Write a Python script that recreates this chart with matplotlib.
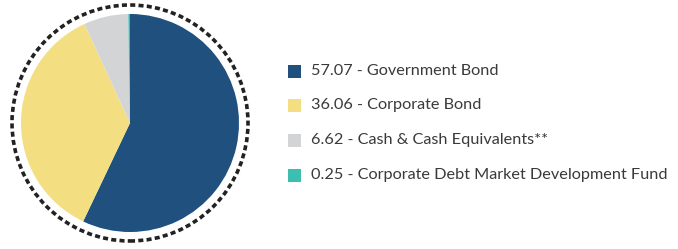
import matplotlib.pyplot as plt
from matplotlib.patches import Circle, Rectangle

# portfolio allocation (%)
values = [57.07, 36.06, 6.62, 0.25]
names = ['Government Bond', 'Corporate Bond', 'Cash & Cash Equivalents**',
         'Corporate Debt Market Development Fund']
colors = ['#20507E', '#F4DE82', '#D3D4D6', '#3CBFB0']

plt.rcParams['font.family'] = ['Lato', 'DejaVu Sans']

fig = plt.figure(figsize=(6.78, 2.49), dpi=100)
ax = fig.add_axes([0, 0, 1, 1])

cx, cy = 130, 126
ax.pie(values, colors=colors, startangle=90, counterclock=False,
       center=(cx, cy), radius=109, frame=True,
       wedgeprops=dict(linewidth=0))
ax.set_xlim(0, 678)
ax.set_ylim(0, 249)
ax.set_aspect('equal')
ax.axis('off')

ring = Circle((cx, cy), 118, fill=False, edgecolor='#222222',
              linewidth=2.6, linestyle=(0, (1.4, 0.9)))
ax.add_patch(ring)

# legend drawn by hand
row_y = [178, 144, 109, 74]
for v, n, c, y in zip(values, names, colors, row_y):
    ax.add_patch(Rectangle((288, y - 6.5), 13, 13, facecolor=c, edgecolor='none'))
    ax.text(311, y, f'{v:.2f} - {n}', fontsize=11.7, color='#3a3a3a',
            va='center', ha='left')

fig.savefig('out.png', dpi=100, facecolor='white')
